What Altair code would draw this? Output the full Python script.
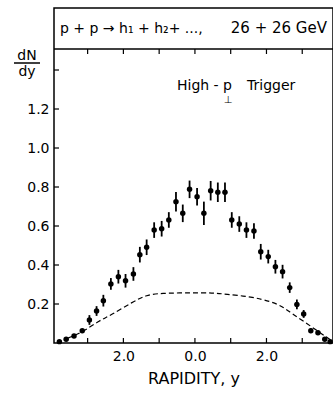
import altair as alt
import pandas as pd

# ---- data ----
rapidity = [-3.79, -3.60, -3.38, -3.15, -2.95, -2.75, -2.56, -2.35, -2.14, -1.94,
            -1.72, -1.54, -1.35, -1.14, -0.93, -0.73, -0.53, -0.34, -0.15,
            0.06, 0.25, 0.44, 0.64, 0.84, 1.03, 1.24, 1.44, 1.65, 1.84,
            2.05, 2.25, 2.45, 2.65, 2.85, 3.04, 3.24, 3.44, 3.63, 3.78]
dndy = [0.007, 0.019, 0.036, 0.063, 0.118, 0.164, 0.217, 0.303, 0.340, 0.319,
        0.354, 0.453, 0.491, 0.579, 0.586, 0.631, 0.725, 0.665, 0.788,
        0.750, 0.665, 0.781, 0.773, 0.773, 0.631, 0.610, 0.579, 0.574, 0.468,
        0.443, 0.391, 0.366, 0.284, 0.198, 0.149, 0.063, 0.053, 0.019, 0.007]
err = [0.004, 0.005, 0.006, 0.008, 0.025, 0.025, 0.03, 0.03, 0.035, 0.035,
       0.035, 0.04, 0.04, 0.04, 0.04, 0.04, 0.05, 0.045, 0.045,
       0.045, 0.06, 0.05, 0.05, 0.05, 0.04, 0.04, 0.04, 0.04, 0.04,
       0.035, 0.035, 0.035, 0.027, 0.025, 0.02, 0.012, 0.01, 0.008, 0.005]

curve_y = [-3.55, -3.12, -2.65, -2.37, -1.73, -1.35, -0.98, -0.05,
           0.50, 0.84, 1.59, 2.14, 2.46, 2.70, 3.26, 3.72, 3.86]
curve_v = [0.025, 0.058, 0.118, 0.140, 0.212, 0.247, 0.255, 0.258,
           0.257, 0.251, 0.237, 0.212, 0.186, 0.152, 0.084, 0.024, 0.010]

y_label_vals = [0.2, 0.4, 0.6, 0.8, 1.0, 1.2]
y_tick_vals = [0.2, 0.4, 0.6, 0.8, 1.0, 1.2, 1.4]
x_label_vals = [-2, 0, 2]
x_tick_vals = [-3, -2, -1, 0, 1, 2, 3]

W, H = 279, 335
XDOM = [-3.94, 3.86]
YDOM = [0, 1.718]
FONT = "DejaVu Sans"

pts = pd.DataFrame({"y": rapidity, "v": dndy, "e": err})
pts["lo"] = pts["v"] - pts["e"]
pts["hi"] = pts["v"] + pts["e"]
curve = pd.DataFrame({"y": curve_y, "v": curve_v})

xs = alt.Scale(domain=XDOM, nice=False, zero=False)
ys = alt.Scale(domain=YDOM, nice=False, zero=False)

xaxis = alt.Axis(values=x_label_vals, labelExpr="format(abs(datum.value), '.1f')",
                 ticks=False, domain=False, grid=False, labelFontSize=14,
                 labelPadding=6, labelFont=FONT, labelColor="black",
                 title="RAPIDITY, y", titleFont=FONT, titleFontSize=16,
                 titleFontWeight="normal", titlePadding=7, titleColor="black")
yaxis = alt.Axis(values=y_label_vals, labelExpr="format(datum.value, '.1f')",
                 ticks=False, domain=False, grid=False, labelFontSize=14,
                 labelPadding=5, labelFont=FONT, labelColor="black", title=None)

bars = alt.Chart(pts).mark_rule(color="black", strokeWidth=1.8).encode(
    x=alt.X("y:Q", scale=xs, axis=xaxis),
    y=alt.Y("lo:Q", scale=ys, axis=yaxis),
    y2="hi:Q",
)
dots = alt.Chart(pts).mark_circle(color="black", opacity=1, size=30).encode(
    x=alt.X("y:Q", scale=xs), y=alt.Y("v:Q", scale=ys)
)
dash = alt.Chart(curve).mark_line(color="black", strokeDash=[5, 3], strokeWidth=1.2,
                                  interpolate="basis").encode(
    x=alt.X("y:Q", scale=xs), y=alt.Y("v:Q", scale=ys)
)

ytk = alt.Chart(pd.DataFrame({"t": y_tick_vals})).mark_rule(color="black", strokeWidth=1.2).encode(
    y=alt.Y("t:Q", scale=ys), x=alt.value(0), x2=alt.value(5)
)
xtk_bot = alt.Chart(pd.DataFrame({"t": x_tick_vals})).mark_rule(color="black", strokeWidth=1.2).encode(
    x=alt.X("t:Q", scale=xs), y=alt.value(H), y2=alt.value(H - 5)
)
xtk_top = alt.Chart(pd.DataFrame({"t": x_tick_vals})).mark_rule(color="black", strokeWidth=1.2).encode(
    x=alt.X("t:Q", scale=xs), y=alt.value(41), y2=alt.value(46)
)

one = pd.DataFrame({"a": [0]})
sep = alt.Chart(one).mark_rule(color="black", strokeWidth=1.5).encode(
    x=alt.value(0), x2=alt.value(W), y=alt.value(41)
)

def txt(s, x, y, size=14, align="left", baseline="alphabetic"):
    return alt.Chart(one).mark_text(text=s, font=FONT, fontSize=size, align=align,
                                    baseline=baseline, color="black").encode(
        x=alt.value(x), y=alt.value(y))

header_l = txt("p + p → h\u2081 + h\u2082+ ...,", 6, 25, size=14)
header_r = txt("26 + 26 GeV", 273, 25, size=15, align="right")
trig1 = txt("High - p", 178, 82, size=14, align="right")
trig_sub = txt("⊥", 174, 95, size=10, align="center")
trig2 = txt("Trigger", 193, 82, size=14, align="left")
dn = txt("dN", -27, 52, size=14, align="center")
dy = txt("dy", -27, 68, size=14, align="center")
frac = alt.Chart(one).mark_rule(color="black", strokeWidth=1.5).encode(
    x=alt.value(-40), x2=alt.value(-14), y=alt.value(55)
)

chart = alt.layer(
    bars, dots, dash, ytk, xtk_bot, xtk_top, sep,
    header_l, header_r, trig1, trig_sub, trig2, dn, dy, frac
).properties(
    width=W, height=H,
    background="white",
    autosize=alt.AutoSizeParams(type="none"),
    padding={"left": 54, "top": 8, "right": 0, "bottom": 53},
).configure_view(stroke="black", strokeWidth=1.5)

chart.save("out.html", embed_options={"renderer": "svg", "actions": False})
